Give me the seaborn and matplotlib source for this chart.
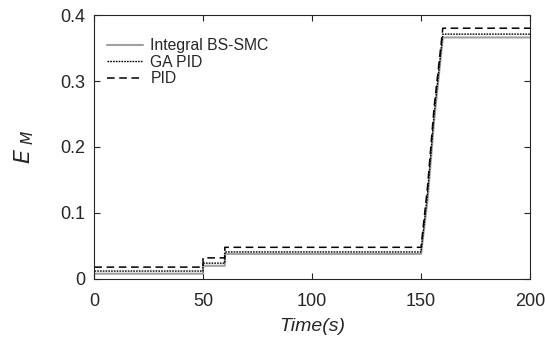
import numpy as np
import pandas as pd
import matplotlib
matplotlib.use("Agg")
import matplotlib.pyplot as plt
import seaborn as sns

sns.set_style("white")
plt.rcParams['font.family'] = ['Liberation Sans', 'DejaVu Sans']

time = [0, 0, 50, 50, 60, 60, 150, 153, 156, 160, 200]
smc = [0, 0.008, 0.008, 0.020, 0.020, 0.038, 0.038, 0.12, 0.24, 0.366, 0.366]
gapid = [0, 0.012, 0.012, 0.024, 0.024, 0.041, 0.041, 0.13, 0.25, 0.371, 0.371]
pid = [0, 0.018, 0.018, 0.032, 0.032, 0.048, 0.048, 0.14, 0.26, 0.380, 0.380]

df = pd.DataFrame({"t": time, "smc": smc, "ga": gapid, "pid": pid})

fig = plt.figure(figsize=(5.45, 3.38), dpi=100)
ax = fig.add_axes([0.1725, 0.1746, 0.80, 0.781])

sns.lineplot(data=df, x="t", y="smc", ax=ax, color="#a0a0a0", lw=1.5,
             label="Integral BS-SMC", sort=False, estimator=None)
sns.lineplot(data=df, x="t", y="ga", ax=ax, color="black", lw=1.0,
             linestyle=(0, (1.2, 0.8)), label="GA PID", sort=False, estimator=None)
sns.lineplot(data=df, x="t", y="pid", ax=ax, color="black", lw=1.1,
             linestyle=(0, (5, 3)), label="PID", sort=False, estimator=None)

ax.set_xlim(0, 200)
ax.set_ylim(0, 0.4)
ax.set_xticks([0, 50, 100, 150, 200])
ax.set_yticks([0, 0.1, 0.2, 0.3, 0.4])
ax.set_yticklabels(["0", "0.1", "0.2", "0.3", "0.4"])
axc = "#262626"
for s in ax.spines.values():
    s.set_visible(True)
    s.set_color(axc)
    s.set_linewidth(0.8)
ax.tick_params(direction="in", length=4, width=0.8, top=True, right=True,
               colors=axc, labelsize=13, labelcolor=axc, bottom=True, left=True)
ax.tick_params(axis="x", pad=10)
ax.tick_params(axis="y", pad=6)
ax.set_xlabel("Time(s)", fontsize=14, style="italic", color=axc, labelpad=6)
ax.set_ylabel("$E_{\\ M}$", fontsize=16, color=axc, labelpad=18)
leg = ax.legend(loc="upper left", frameon=False, fontsize=11.3, handlelength=2.3,
                bbox_to_anchor=(0.03, 0.912), labelspacing=0.1, handletextpad=0.45,
                borderaxespad=0, borderpad=0)
fig.savefig("out.png", dpi=100)
